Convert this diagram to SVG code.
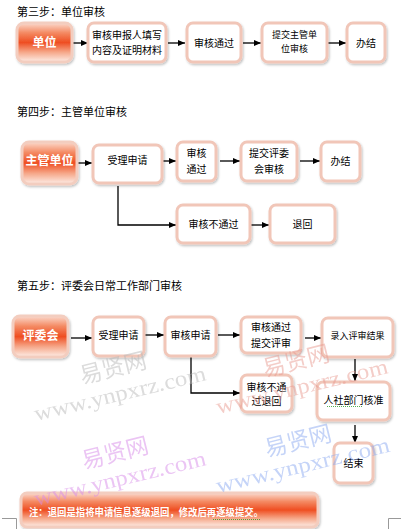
<svg xmlns="http://www.w3.org/2000/svg" width="401" height="529" viewBox="0 0 401 529">
<defs>
<style>
.t{font-family:"Liberation Sans","Noto Sans CJK SC",sans-serif;fill:#000;}
.title{font-size:11px;}
.n{fill:#fff;stroke:#f1c6b8;stroke-width:3;filter:url(#sh);}
.r{fill:url(#rg);stroke:#f3cdbf;stroke-width:3;filter:url(#sh);}
.nt{font-size:10px;text-anchor:middle;}
.st{font-size:9px;text-anchor:middle;}
.rt{font-size:12px;font-weight:bold;fill:#fff;text-anchor:middle;}
.c{fill:none;stroke:#000;stroke-width:1.3;marker-end:url(#ah);}
.wm{font-family:"Liberation Serif","Noto Sans CJK SC",serif;}
.wz{font-family:"Noto Sans CJK SC",serif;}
.crop{stroke:#999;stroke-width:1;fill:none;}
.sq{fill:none;stroke:#2a9a2a;stroke-width:0.8;stroke-dasharray:1 1;}
</style>
<linearGradient id="rg" x1="0" y1="0" x2="0" y2="1">
<stop offset="0" stop-color="#fbd9cc"/>
<stop offset="0.25" stop-color="#f48a63"/>
<stop offset="0.5" stop-color="#ef4e22"/>
<stop offset="0.75" stop-color="#f6a88a"/>
<stop offset="1" stop-color="#fdeee8"/>
</linearGradient>
<filter id="sh" x="-10%" y="-10%" width="125%" height="130%">
<feDropShadow dx="1" dy="1.5" stdDeviation="0.8" flood-color="#000" flood-opacity="0.25"/>
</filter>
<marker id="ah" markerWidth="8" markerHeight="8" refX="7" refY="4" orient="auto" markerUnits="userSpaceOnUse">
<path d="M0,1 L7,4 L0,7 z" fill="#000"/>
</marker>
</defs>
<rect width="401" height="529" fill="#fff"/>

<text class="t title" x="17" y="16">第三步：单位审核</text>
<text class="t title" x="17" y="116">第四步：主管单位审核</text>
<text class="t title" x="17" y="290">第五步：评委会日常工作部门审核</text>

<g id="connectors">
<path class="c" d="M73,43 H88"/>
<path class="c" d="M168,43 H185"/>
<path class="c" d="M243,43 H261"/>
<path class="c" d="M328,43 H346"/>
<path class="c" d="M78,163 H92"/>
<path class="c" d="M162,161 H176"/>
<path class="c" d="M220,161 H240"/>
<path class="c" d="M300,161 H320"/>
<path class="c" d="M118,186 V225 H176"/>
<path class="c" d="M250,225 H269"/>
<path class="c" d="M71,338 H92"/>
<path class="c" d="M144,335 H164"/>
<path class="c" d="M218,335 H240"/>
<path class="c" d="M305,338 H321"/>
<path class="c" d="M191,357 V393 H240"/>
<path class="c" d="M355,359 V381"/>
<path class="c" d="M355,425 V443"/>
</g>

<g id="n-danwei"><rect class="r" x="17" y="23" width="55" height="39" rx="7"/><text class="t rt" x="44.5" y="47">单位</text></g>
<g id="n-shenbao"><rect class="n" x="88" y="23" width="78" height="39" rx="6"/><text class="t nt" x="127" y="39">审核申报人填写</text><text class="t nt" x="127" y="54">内容及证明材料</text></g>
<g id="n-tongguo1"><rect class="n" x="187" y="23" width="54" height="39" rx="6"/><text class="t nt" x="214" y="47">审核通过</text></g>
<g id="n-tijiao1"><rect class="n" x="262" y="23" width="65" height="39" rx="6"/><text class="t st" x="294.5" y="38">提交主管单</text><text class="t st" x="294.5" y="52">位审核</text></g>
<g id="n-banjie1"><rect class="n" x="347" y="23" width="38" height="39" rx="6"/><text class="t nt" x="366" y="47">办结</text></g>

<g id="n-zhuguan"><rect class="r" x="22" y="142" width="55" height="42" rx="7"/><text class="t rt" x="49.5" y="165">主管单位</text></g>
<g id="n-shouli2"><rect class="n" x="93" y="145" width="69" height="38" rx="6"/><text class="t nt" x="127.5" y="164">受理申请</text></g>
<g id="n-tongguo2"><rect class="n" x="177" y="142" width="39" height="39" rx="6"/><text class="t nt" x="196.5" y="157">审核</text><text class="t nt" x="196.5" y="173">通过</text></g>
<g id="n-tijiao2"><rect class="n" x="241" y="142" width="56" height="39" rx="6"/><text class="t nt" x="269" y="157">提交评委</text><text class="t nt" x="269" y="173">会审核</text></g>
<g id="n-banjie2"><rect class="n" x="321" y="142" width="39" height="39" rx="6"/><text class="t nt" x="340.5" y="165">办结</text></g>
<g id="n-butongguo2"><rect class="n" x="177" y="205" width="73" height="38" rx="6"/><text class="t nt" x="213.5" y="228">审核不通过</text></g>
<g id="n-tuihui2"><rect class="n" x="270" y="205" width="65" height="38" rx="6"/><text class="t nt" x="302.5" y="228">退回</text></g>

<g id="n-pingwei"><rect class="r" x="13" y="316" width="55" height="41" rx="7"/><text class="t rt" x="40.5" y="340">评委会</text></g>
<g id="n-shouli3"><rect class="n" x="93" y="317" width="51" height="39" rx="6"/><text class="t nt" x="118.5" y="339">受理申请</text></g>
<g id="n-shenhe3"><rect class="n" x="165" y="317" width="51" height="39" rx="6"/><text class="t nt" x="190.5" y="339">审核申请</text></g>
<g id="n-tongguo3"><rect class="n" x="241" y="317" width="60" height="36" rx="6"/><text class="t nt" x="271" y="331">审核通过</text><text class="t nt" x="271" y="347">提交评审</text></g>
<g id="n-luru"><rect class="n" x="322" y="318" width="71" height="39" rx="6"/><text class="t st" x="357.5" y="339">录入评审结果</text></g>
<g id="n-butongguo3"><rect class="n" x="241" y="375" width="51" height="37" rx="6"/><text class="t nt" x="266.5" y="391">审核不通</text><text class="t nt" x="266.5" y="405">过退回</text></g>
<g id="n-renshe"><rect class="n" x="317" y="382" width="73" height="38" rx="6"/><text class="t nt" x="353.5" y="404">人社部门核准</text><path class="sq" d="M327,406.5 H362"/></g>
<g id="n-jieshu"><rect class="n" x="334" y="443" width="39" height="40" rx="6"/><text class="t nt" x="353.5" y="467">结束</text></g>

<g id="n-note"><rect class="r" x="21" y="493" width="297" height="34" rx="6"/><text class="t" x="29" y="516" style="font-size:10px;font-weight:bold;fill:#fff" textLength="234" lengthAdjust="spacingAndGlyphs">注：退回是指将申请信息逐级退回，修改后再逐级提交。</text><path class="sq" d="M213,519.5 H260"/></g>

<g id="watermarks" opacity="0.5">
<text class="wz" transform="translate(82,384) rotate(-14)" font-size="23" fill="#b8b8b8" textLength="68" lengthAdjust="spacingAndGlyphs">易贤网</text>
<text class="wm" transform="translate(36,421) rotate(-13.5)" font-size="22" fill="#b8b8b8" textLength="176" lengthAdjust="spacingAndGlyphs">www.ynpxrz.com</text>
<text class="wz" transform="translate(265,377) rotate(-14)" font-size="23" fill="#e89a90" textLength="68" lengthAdjust="spacingAndGlyphs">易贤网</text>
<text class="wm" transform="translate(218,414) rotate(-13.5)" font-size="22" fill="#e89a90" textLength="176" lengthAdjust="spacingAndGlyphs">www.ynpxrz.com</text>
<text class="wz" transform="translate(84,469) rotate(-14)" font-size="23" fill="#d78ae8" textLength="68" lengthAdjust="spacingAndGlyphs">易贤网</text>
<text class="wm" transform="translate(36,506) rotate(-13.5)" font-size="22" fill="#d78ae8" textLength="176" lengthAdjust="spacingAndGlyphs">www.ynpxrz.com</text>
<text class="wz" transform="translate(267,457) rotate(-14)" font-size="23" fill="#8aa8f0" textLength="68" lengthAdjust="spacingAndGlyphs">易贤网</text>
<text class="wm" transform="translate(218,493) rotate(-13.5)" font-size="22" fill="#8aa8f0" textLength="178" lengthAdjust="spacingAndGlyphs">www.ynpxrz.com</text>
</g>

<path class="crop" d="M2,518.5 H16.5 V529"/>
<path class="crop" d="M401,518.5 H388.5 V529"/>
</svg>
